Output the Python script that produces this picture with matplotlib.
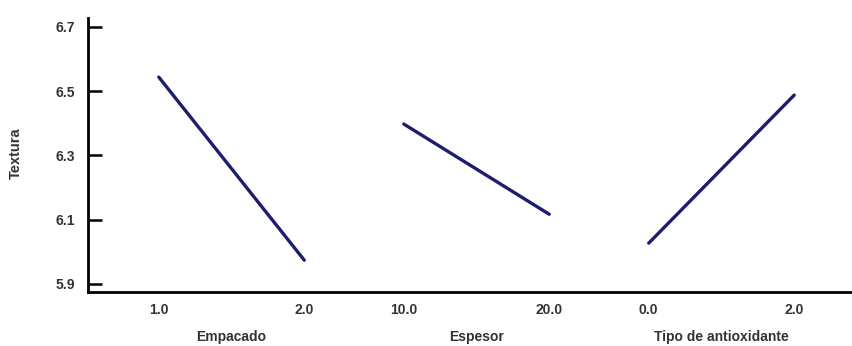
import matplotlib.pyplot as plt

plt.rcParams['font.family'] = ['Liberation Sans', 'DejaVu Sans']

# main effects on Textura, low and high level of each factor
factors = ["Empacado", "Espesor", "Tipo de antioxidante"]
level_labels = [["1.0", "2.0"], ["10.0", "20.0"], ["0.0", "2.0"]]
means = [[6.544, 5.974], [6.398, 6.117], [6.027, 6.488]]

yticks = [5.9, 6.1, 6.3, 6.5, 6.7]

txt_color = "#333333"

fig = plt.figure(figsize=(8.53, 3.46), dpi=100)
ax = fig.add_axes([88 / 853, 54 / 346, 765 / 853, 274 / 346])

half = 0.297
line_color = "#1d1d6e"
tick_pos = []
tick_lab = []
for i, (name, labs, vals) in enumerate(zip(factors, level_labels, means)):
    xs = [i - half, i + half]
    ax.plot(xs, vals, color=line_color, lw=2.4, solid_capstyle="round")
    tick_pos += xs
    tick_lab += labs
    ax.text(i, -0.165, name, transform=ax.get_xaxis_transform(),
            ha="center", va="center", fontsize=10, fontweight="bold",
            color=txt_color)

ax.set_xlim(-0.586, 2.537)
ax.set_ylim(5.875, 6.728)
ax.set_xticks(tick_pos)
ax.set_xticklabels(tick_lab, fontweight="bold")
ax.set_yticks(yticks)
ax.set_yticklabels([f"{v:.1f}" for v in yticks], fontweight="bold")

ax.tick_params(axis="x", length=0, pad=8, labelsize=10, labelcolor=txt_color)
ax.tick_params(axis="y", direction="in", length=10, width=1.8, pad=9,
               labelsize=10, labelcolor=txt_color)

for side in ["top", "right"]:
    ax.spines[side].set_visible(False)
for side in ["left", "bottom"]:
    ax.spines[side].set_linewidth(2)
    ax.spines[side].set_color("black")

ax.set_ylabel("Textura", fontsize=10.5, fontweight="bold", color=txt_color)
ax.yaxis.set_label_coords(-0.085, 0.507)

fig.savefig("out.png", dpi=100)
